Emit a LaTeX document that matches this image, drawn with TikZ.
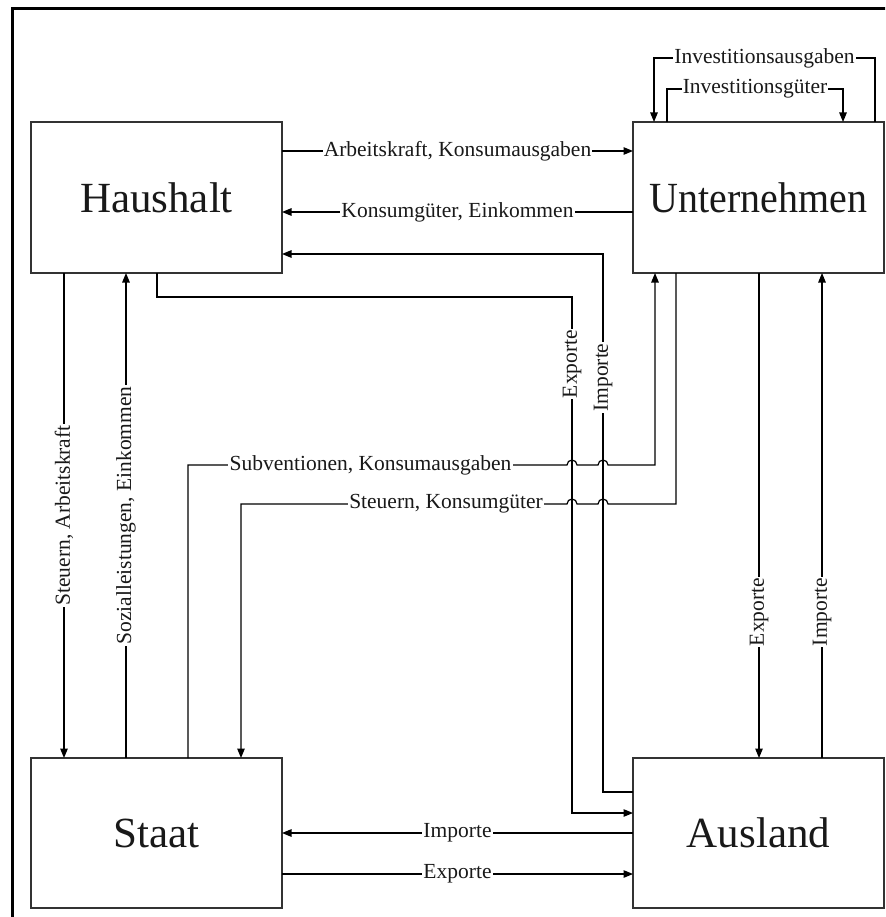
\documentclass[tikz,border=0pt]{standalone}
\usepackage{fontspec}
\setmainfont{Liberation Serif}
\usetikzlibrary{arrows.meta,calc}
\begin{document}
\begin{tikzpicture}[x=1pt,y=1pt,
  box/.style={draw=black!80,line width=1.5pt,minimum width=251pt,minimum height=151pt,
    inner sep=0pt,outer sep=0pt,text=black!90,font=\fontsize{43}{43}\selectfont},
  flow/.style={line width=1.2pt,-{Triangle[length=9.5pt,width=7.5pt]}},
  lbl/.style={fill=white,inner sep=1.2pt,text=black!90,font=\fontsize{21.5}{21.5}\selectfont},
  vlbl/.style={lbl,rotate=90}]
\useasboundingbox (0,0) rectangle (885,-917);
% outer frame
\begin{scope}
  \clip (0,0) rectangle (885,-917);
  \draw[line width=3pt] (12,-9) rectangle (900,-940);
\end{scope}

% sectors
\node[box] (H) at (156.5,-197.5) {Haushalt};
\node[box] (U) at (758.5,-197.5) {\scalebox{0.93}[1]{Unternehmen}};
\node[box,minimum height=150pt] (S) at (156.5,-833) {Staat};
\node[box,minimum height=150pt] (A) at (758.5,-833) {Ausland};

% columns and rows used by the connectors
\foreach \x in {64,126,157,188,241,572,603,654,655,667,676,759,822,843,875}
  \coordinate (c\x) at (\x,0);
\foreach \y in {58,89,151,212,254,297,465,504,792,813,833,874}
  \coordinate (r\y) at (0,-\y);

% Haushalt <-> Unternehmen
\draw[flow] (H.east |- r151) -- node[lbl]{Arbeitskraft, Konsumausgaben} (U.west |- r151);
\draw[flow] (U.west |- r212) -- node[lbl]{Konsumgüter, Einkommen} (H.east |- r212);

% Ausland -> Haushalt (Importe)
\draw[flow] (A.west |- r792) -- (c603 |- r792) -- (c603 |- r254) -- (H.east |- r254);
\node[vlbl] (impH) at (603,-377.5) {Importe};

% Haushalt -> Ausland (Exporte)
\draw[flow] (H.south -| c157) -- (c157 |- r297) -- (c572 |- r297) -- (c572 |- r813) -- (A.west |- r813);
\node[vlbl] (expH) at (572,-364) {Exporte};

% Haushalt <-> Staat
\draw[flow] (H.south -| c64) -- node[vlbl]{Steuern, Arbeitskraft} (S.north -| c64);
\draw[flow] (S.north -| c126) -- node[vlbl]{Sozialleistungen, Einkommen} (H.south -| c126);

% Staat -> Unternehmen, hopping over the two vertical lines
\draw[flow] (S.north -| c188) -- (c188 |- r465) -- (567,-465)
  arc[start angle=180,end angle=0,radius=5] -- (598,-465)
  arc[start angle=180,end angle=0,radius=5] -- (c655 |- r465) -- (U.south -| c655);
\node[lbl] (subv) at (370.5,-465) {Subventionen, Konsumausgaben};

% Unternehmen -> Staat, hopping over the two vertical lines
\draw[flow] (U.south -| c676) -- (c676 |- r504) -- (608,-504)
  arc[start angle=0,end angle=180,radius=5] -- (577,-504)
  arc[start angle=0,end angle=180,radius=5] -- (c241 |- r504) -- (S.north -| c241);
\node[lbl] (steu) at (446,-504) {Steuern, Konsumgüter};

% Unternehmen <-> Ausland
\draw[flow] (U.south -| c759) -- (A.north -| c759);
\node[vlbl] (expU) at (759,-612) {Exporte};
\draw[flow] (A.north -| c822) -- (U.south -| c822);
\node[vlbl] (impU) at (822,-612) {Importe};

% Ausland <-> Staat
\draw[flow] (A.west |- r833) -- node[lbl]{Importe} (S.east |- r833);
\draw[flow] (S.east |- r874) -- node[lbl]{Exporte} (A.west |- r874);

% investment loops on Unternehmen
\draw[flow] (U.north -| c875) -- (c875 |- r58) -- node[lbl]{Investitionsausgaben} (c654 |- r58) -- (U.north -| c654);
\draw[flow] (U.north -| c667) -- (c667 |- r89) -- node[lbl]{Investitionsgüter} (c843 |- r89) -- (U.north -| c843);
\end{tikzpicture}
\end{document}
